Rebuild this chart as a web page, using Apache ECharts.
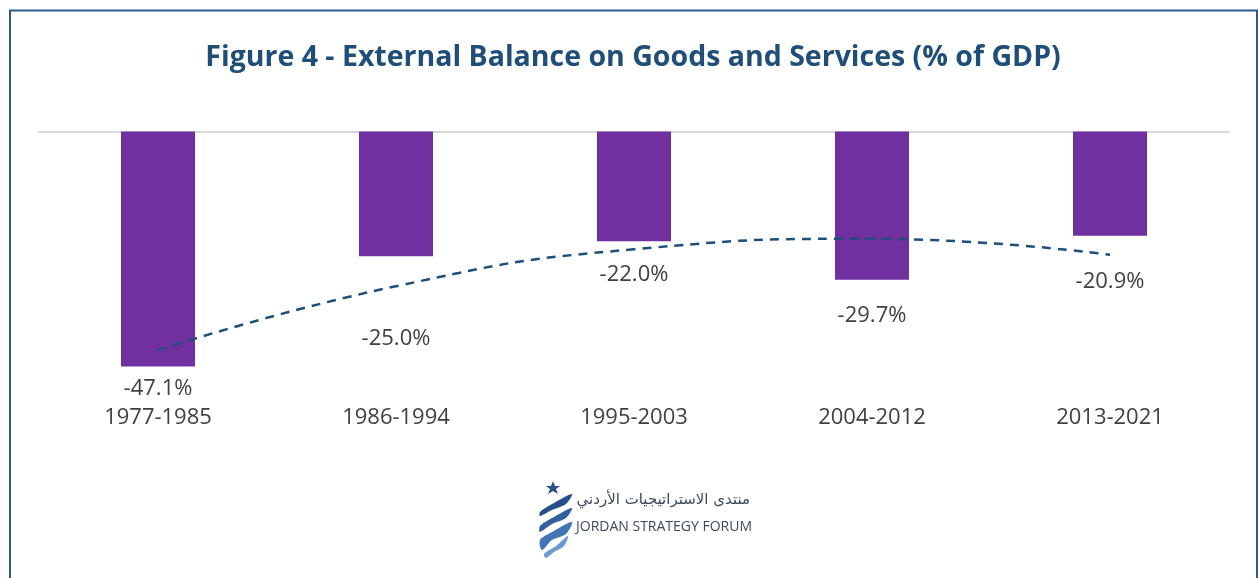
<!DOCTYPE html>
<html>
<head>
<meta charset="utf-8" />
<title>External Balance on Goods and Services</title>
<script src="https://cdnjs.cloudflare.com/ajax/libs/echarts/6.0.0/echarts.min.js"></script>
<style>
  html, body { margin: 0; padding: 0; background: #fff; }
  #chart { width: 1258px; height: 578px; }
</style>
</head>
<body>
<div id="chart"></div>
<script>
  // periodos e valores (% do PIB)
  var periodos = ['1977-1985', '1986-1994', '1995-2003', '2004-2012', '2013-2021'];
  var saldo = [-47.1, -25.0, -22.0, -29.7, -20.9];
  // linha de tendência (polinomial)
  var tendencia = [-43.8, -31.0, -23.6, -21.5, -24.7];
  // distância dos rótulos abaixo das barras (ajustados à mão como no original)
  var rotuloGap = [11, 71, 22, 25, 35];

  var corBarra = '#7030A0';
  var corTitulo = '#1F4E79';
  var corTexto = '#404040';

  var chart = echarts.init(document.getElementById('chart'));

  var option = {
    backgroundColor: '#ffffff',
    animation: false,
    title: {
      text: 'Figure 4 - External Balance on Goods and Services (% of GDP)',
      left: 628, top: 38, textAlign: 'center',
      textStyle: { color: corTitulo, fontSize: 28.5, fontWeight: 'bold', fontFamily: 'Open Sans' }
    },
    grid: { left: 39, right: 29, top: 131.5, height: 274.5, containLabel: false },
    xAxis: {
      type: 'category', data: periodos,
      axisLine: { show: true, onZero: true, lineStyle: { color: '#D9D9D9', width: 2 } },
      axisTick: { show: false },
      axisLabel: { show: false }
    },
    yAxis: {
      type: 'value', min: -55, max: 0, show: false
    },
    series: [
      {
        type: 'bar', data: saldo.map(function (v, i) {
          return { value: v, label: { distance: rotuloGap[i] } };
        }),
        barWidth: 74,
        itemStyle: { color: corBarra },
        label: {
          show: true, position: 'bottom', color: corTexto, fontSize: 22,
          fontFamily: 'Open Sans',
          formatter: function (p) { return p.value.toFixed(1) + '%'; }
        },
        z: 2
      },
      {
        type: 'line', data: tendencia, smooth: 0.5, symbol: 'none',
        lineStyle: { color: corTitulo, width: 2.5, type: [9, 7] },
        z: 3
      }
    ],
    graphic: [
      // moldura
      { type: 'rect', shape: { x: 10, y: 10.5, width: 1247, height: 600 },
        style: { fill: null, stroke: '#2B5C8F', lineWidth: 2 }, silent: true },
      // rótulos das categorias
      {
        type: 'group', children: periodos.map(function (p, i) {
          return {
            type: 'text', x: 158 + i * 238, y: 418,
            style: { text: p, fill: corTexto, fontSize: 22, fontFamily: 'Open Sans',
                     align: 'center', verticalAlign: 'middle' }
          };
        })
      },
      // logo
      {
        type: 'group', x: 538, y: 480, children: [
          { type: 'polygon', shape: { points: [[13, 6], [15, 1], [17, 6], [22, 6], [18, 9], [20, 14], [15, 11], [10, 14], [12, 9], [8, 6]] },
            style: { fill: '#2B4F86' } },
          { type: 'polygon', shape: { points: [[2, 32], [14, 24], [34, 14], [28, 24], [14, 30], [2, 36]], smooth: 0.3 }, style: { fill: '#274F8A' } },
          { type: 'polygon', shape: { points: [[2, 46], [14, 38], [34, 28], [28, 38], [14, 44], [2, 52]], smooth: 0.3 }, style: { fill: '#335F9E' } },
          { type: 'polygon', shape: { points: [[2, 60], [14, 52], [34, 42], [28, 54], [14, 60], [4, 70]], smooth: 0.3 }, style: { fill: '#4275B4' } },
          { type: 'polygon', shape: { points: [[6, 74], [18, 66], [30, 56], [26, 66], [16, 72], [8, 78]], smooth: 0.3 }, style: { fill: '#6A9AD0' } },
          { type: 'text', x: 212, y: 20, style: { text: 'منتدى الاستراتيجيات الأردني', fill: '#3E4A5C',
              fontSize: 15, fontFamily: 'DejaVu Sans', align: 'right', verticalAlign: 'middle' } },
          { type: 'text', x: 38, y: 47, style: { text: 'JORDAN STRATEGY FORUM', fill: '#3E4A5C',
              fontSize: 14, fontFamily: 'Open Sans', align: 'left', verticalAlign: 'middle' } }
        ]
      }
    ]
  };

  chart.setOption(option);
</script>
</body>
</html>
